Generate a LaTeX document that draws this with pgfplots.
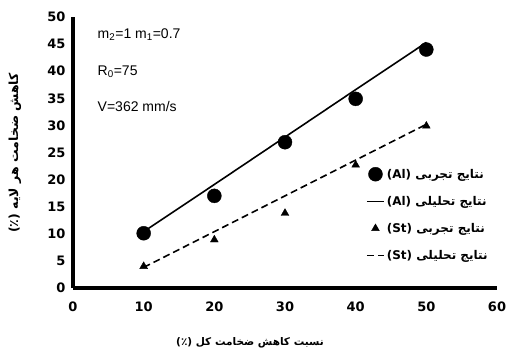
\documentclass[border=0pt]{standalone}
\usepackage{fontspec}
\usepackage{pgfplots}
\pgfplotsset{compat=1.18}
\setmainfont{Liberation Sans}
\newfontfamily\arabicfont[Script=Arabic]{DejaVu Sans}
\newfontfamily\tickfont{DejaVu Sans}
\TeXXeTstate=1
\begin{document}
\begin{tikzpicture}
\path[use as bounding box] (-73pt,-66pt) rectangle (437pt,288pt);
\begin{axis}[
  scale only axis, width=424pt, height=271pt,
  xmin=0, xmax=60, ymin=0, ymax=50,
  xtick={0,10,...,60}, ytick={0,5,...,50},
  axis lines=left, axis line style={line width=3.5pt, -},
  major tick length=0pt,
  /pgf/number format/assume math mode=true,
  tick label style={font=\tickfont\bfseries\fontsize{13}{15}\selectfont},
  xticklabel style={yshift=-10pt},
  yticklabel style={xshift=-4pt},
  clip=false,
  legend style={draw=none, fill=none, at={(0.99,0.455)}, anchor=north east,
    font=\arabicfont\bfseries\fontsize{12}{14}\selectfont, row sep=12.5pt,
    legend cell align=left},
]
\addplot[only marks, mark=*, mark size=7pt, black] coordinates {(10,10.1) (20,17) (30,26.9) (40,34.9) (50,44)};
\addlegendentry{\beginR نتایج تجربی (Al)\endR}
\addplot[black, line width=1.6pt, no marks] coordinates {(10,10.4) (20,19.1) (30,27.85) (40,36.6) (50,45.3)};
\addlegendentry{\beginR نتایج تحلیلی (Al)\endR}
\addplot[only marks, mark=triangle*, mark size=4.5pt, black] coordinates {(10,4) (20,8.9) (30,13.8) (40,22.7) (50,29.9)};
\addlegendentry{\beginR نتایج تجربی (St)\endR}
\addplot[black, line width=1.6pt, dash pattern=on 7pt off 4pt, no marks] coordinates {(10,3.8) (20,10.4) (30,17.0) (40,23.6) (50,30.2)};
\addlegendentry{\beginR نتایج تحلیلی (St)\endR}
\node[anchor=west, font=\fontsize{14}{16}\selectfont] at (axis cs:3,46.7) {m\textsubscript{2}=1 m\textsubscript{1}=0.7};
\node[anchor=west, font=\fontsize{14}{16}\selectfont] at (axis cs:3,39.9) {R\textsubscript{0}=75};
\node[anchor=west, font=\fontsize{14}{16}\selectfont] at (axis cs:3,33.4) {V=362 mm/s};
\end{axis}
\node[rotate=90, font=\arabicfont\bfseries\fontsize{12.5}{14}\selectfont] at (-58pt,135pt) {\beginR کاهش ضخامت هر لایه (٪)\endR};
\node[font=\arabicfont\bfseries\fontsize{10.5}{12}\selectfont] at (177pt,-55pt) {\beginR نسبت کاهش ضخامت کل (٪)\endR};
\end{tikzpicture}
\end{document}
